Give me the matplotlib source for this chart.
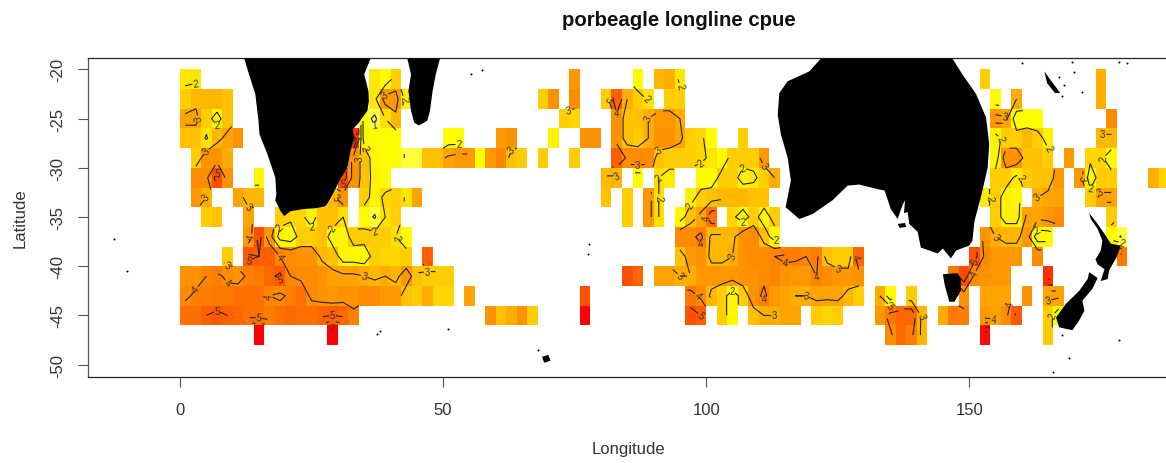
import numpy as np
import matplotlib
matplotlib.use("Agg")
import matplotlib.pyplot as plt
from matplotlib.colors import LinearSegmentedColormap

plt.rcParams['font.family'] = ['Liberation Sans', 'DejaVu Sans']
plt.rcParams['axes.unicode_minus'] = False

# cpue per 2 degree cell, row = northern edge of the cell
# {lon of first cell: [values of consecutive cells going east]}
lat_20 = {0: [1.8, 1.8], 36: [1.8, 1.4, 2.4], 74: [3.4], 86: [1.4], 90: [2.8, 3.0, 1.8], 152: [2.4], 174: [3.0]}
lat_22 = {0: [2.4, 2.8, 2.8, 2.8, 2.6], 36: [1.8, 3.4, 3.4, 1.6], 68: [2.4, 3.6], 74: [3.8],
          80: [2.4, 5.0, 3.0, 2.4, 1.9], 92: [2.4, 2.4], 154: [1.4], 158: [3.0], 174: [3.0]}
lat_24 = {0: [3.2, 3.2, 2.4, 1.6, 2.6], 34: [1.4, 0.8, 2.0, 2.8], 72: [2.4, 2.2],
          82: [3.6, 2.6, 2.6, 3.0, 3.4, 3.4, 3.0], 154: [3.4, 3.2, 1.4, 1.3, 1.3], 176: [3.8]}
lat_26 = {0: [2.6, 2.6, 1.9, 2.8, 3.2, 3.6], 32: [6.5, 1.5, 1.4, 1.4, 1.4], 50: [1.4, 1.4], 60: [3.4, 3.6],
          70: [1.6], 76: [3.6, 3.6], 82: [3.6, 2.6, 2.4, 3.0, 3.6, 3.6, 3.2, 2.4, 2.2, 1.4], 106: [2.4],
          154: [1.6, 2.4, 2.4, 2.8, 2.4, 1.6], 174: [2.8, 2.8]}
lat_28 = {2: [2.4, 3.6, 3.6, 3.0],
          32: [3.6, 2.6, 1.5, 1.4, 1.4, 0.9, 0.9, 2.6, 2.6, 3.2, 3.4, 3.4, 1.3, 3.4, 4.0, 2.6, 2.4],
          68: [2.4], 74: [2.4], 82: [5.0, 3.8, 3.8, 3.8, 2.6, 2.4, 2.4, 2.4, 2.2, 1.8, 1.4, 2.4, 2.4, 2.4, 3.4],
          154: [1.5, 3.6, 3.6, 2.6, 2.6, 2.4], 168: [3.4], 172: [2.2, 2.2, 1.4]}
lat_30 = {2: [3.8, 3.8, 5.4, 3.6], 14: [1.5], 30: [5.6, 3.6, 2.6, 1.6, 1.4], 80: [2.8, 2.8], 86: [1.4],
          90: [2.0, 1.7], 98: [1.4, 1.4, 2.4, 2.4, 1.6, 1.8, 2.4, 3.0],
          154: [2.4, 2.4, 1.8, 2.4, 2.6, 2.6, 3.4], 170: [3.4, 1.5, 2.4, 2.4], 184: [3.0, 2.2]}
lat_32 = {2: [3.4, 3.0], 10: [3.2, 2.8, 2.8], 28: [2.8, 3.6], 34: [2.4, 1.6, 2.2, 2.4, 1.9, 3.2], 80: [2.6],
          84: [2.4], 88: [3.4, 2.0], 96: [1.6, 2.4, 2.6, 2.8, 2.8, 2.8, 2.6, 2.6],
          152: [1.7, 2.4, 1.6, 1.5], 162: [3.0, 3.2, 3.2], 172: [2.4, 3.2, 3.2]}
lat_34 = {4: [2.4, 2.6], 12: [3.2], 18: [2.4, 2.2, 2.2, 1.6, 2.6, 2.6, 2.0], 34: [1.4, 0.9, 2.0, 2.4], 84: [2.4],
          88: [3.4, 2.0], 94: [1.5, 2.6, 3.2, 4.6], 104: [2.2, 1.5, 2.4, 1.5, 2.4],
          154: [2.4, 1.6, 1.6, 3.2, 3.2, 3.4, 3.8], 176: [2.4]}
lat_36 = {12: [3.4, 5.4, 3.4, 1.6, 1.4, 2.4, 2.4, 2.6, 1.5, 1.5, 2.4, 2.4, 2.4, 2.4, 2.0, 1.4],
          94: [3.8, 3.8, 4.2, 2.8, 2.8, 2.8, 3.6, 3.8, 2.6, 1.5],
          152: [3.6, 3.0, 2.8, 2.8, 3.4, 1.4, 1.4], 176: [1.4, 0.9]}
lat_38 = {8: [2.4], 12: [5.2, 5.0, 5.0, 4.0, 3.8, 3.6, 3.6, 2.8, 2.6, 1.5, 1.5, 1.4, 2.4, 2.2, 2.2, 2.4], 46: [5.0],
          94: [2.6, 3.4, 3.6, 2.8, 2.8, 3.0, 3.6, 3.8, 3.8, 4.0, 4.2, 4.2, 4.0, 4.2, 2.6, 2.4, 2.4], 128: [4.8],
          150: [5.4, 3.8, 3.4, 3.4, 3.4], 162: [3.8], 178: [4.4]}
lat_40 = {0: [3.6, 3.6, 4.0, 4.2, 3.8, 3.6, 4.2, 4.4, 4.8, 5.2, 4.0, 3.8, 3.8, 3.6, 3.2, 3.2, 3.2, 3.0, 2.8, 3.0,
              2.8, 3.4, 2.6, 2.4, 2.4, 2.4],
          84: [5.4, 4.8],
          90: [3.2, 3.2, 3.0, 3.0, 3.4, 3.4, 3.4, 3.4, 3.6, 3.6, 3.8, 4.0, 3.6, 3.4, 3.4, 4.0, 3.8, 3.4, 3.4],
          128: [3.6], 146: [4.4, 5.6, 3.8, 3.6, 3.4, 3.4], 164: [6.5]}
lat_42 = {0: [3.8, 4.2, 4.2, 4.4, 4.4, 4.6, 4.6, 4.6, 4.0, 3.8, 4.2, 4.6, 3.8, 3.6, 3.4, 3.6, 3.6, 3.8, 3.8, 3.4,
              3.4, 2.6, 2.4, 3.0, 2.2, 2.2],
          54: [3.2], 76: [5.4],
          96: [4.4, 3.8, 2.8, 2.4, 1.5, 2.4, 3.6, 4.2, 3.4, 3.2, 3.0, 3.0, 3.2, 3.2, 3.2, 2.8],
          128: [2.4], 132: [3.0, 1.4], 138: [2.4], 148: [3.6], 152: [3.2, 3.2, 3.2], 160: [3.6], 164: [3.2, 3.2]}
lat_44 = {0: [4.6, 4.6, 5.0, 5.2, 5.0, 4.8, 4.6, 4.6, 4.2, 4.6, 4.8, 4.6, 4.6, 4.8, 5.0, 4.8, 4.2],
          58: [3.6, 2.6, 3.0, 3.6, 2.4], 76: [8.2], 96: [5.4, 5.0], 102: [2.4, 1.5],
          108: [2.6, 3.0, 3.0, 3.2, 3.2], 120: [2.4, 2.2, 2.4], 132: [3.4, 4.4, 4.8, 4.8, 2.8],
          144: [3.0, 4.4, 4.2], 152: [3.4, 3.2, 3.8, 5.2], 164: [2.4, 1.4]}
lat_46 = {14: [8.2], 28: [8.2], 134: [3.8, 4.8, 4.2, 2.8], 152: [7.8], 164: [2.4]}

rows = [lat_20, lat_22, lat_24, lat_26, lat_28, lat_30, lat_32, lat_34, lat_36, lat_38, lat_40, lat_42, lat_44, lat_46]

# land outlines (lon, lat)
africa = [(12.2, -18.9), (13.1, -20.5), (14.3, -22.5), (14.9, -25.2), (15.1, -26.6), (16.6, -28.6), (18.1, -31.0),
          (18.3, -32.7), (18.1, -33.3), (19.1, -34.4), (19.8, -34.9), (21.0, -34.4), (23.3, -34.2), (25.8, -34.1),
          (27.7, -33.9), (29.0, -32.7), (30.5, -31.1), (31.8, -30.0), (32.4, -28.3), (33.1, -26.9), (32.8, -26.1),
          (34.0, -25.4), (35.6, -24.2), (35.9, -23.2), (35.8, -22.2), (35.0, -20.5), (36.2, -18.9)]
madagascar = [(43.2, -18.9), (43.9, -20.5), (43.4, -22.2), (43.9, -24.2), (44.5, -25.4), (45.4, -25.7), (47.0, -25.2),
              (47.5, -24.2), (48.0, -22.2), (48.6, -20.5), (49.4, -18.9)]
australia = [(121.8, -18.9), (119.6, -20.2), (115.5, -21.2), (113.9, -22.4), (113.6, -24.6), (114.2, -26.6),
             (115.5, -29.0), (116.1, -31.3), (115.1, -34.0), (117.7, -35.2), (120.2, -34.7), (124.0, -33.3),
             (126.9, -31.8), (129.1, -31.7), (132.9, -32.2), (133.9, -32.3), (135.1, -34.2), (136.4, -35.2),
             (137.3, -33.8), (137.8, -33.3), (137.6, -34.6), (138.3, -34.5), (138.6, -35.7), (140.2, -36.5),
             (140.8, -38.1), (144.0, -38.7), (145.0, -38.2), (146.5, -39.2), (147.5, -38.4), (150.0, -37.9),
             (150.6, -37.4), (151.0, -35.4), (152.2, -33.0), (153.5, -30.0), (153.8, -27.6),
             (153.2, -24.9), (151.3, -22.5), (148.7, -20.5), (146.8, -18.9)]
kangaroo = [(136.4, -35.7), (137.8, -35.6), (138.0, -36.0), (136.8, -36.1)]
tasmania = [(145.0, -40.8), (147.8, -40.7), (148.4, -41.3), (148.4, -42.5), (147.2, -43.6), (146.2, -43.6),
            (145.3, -41.8)]
nz_north = [(172.8, -34.6), (174.4, -35.7), (175.7, -36.7), (176.9, -37.7), (178.8, -37.9), (178.0, -39.1),
            (176.6, -40.4), (176.3, -41.3), (175.0, -41.5), (175.7, -40.3), (174.4, -39.8), (174.0, -39.3),
            (175.0, -38.4), (175.3, -37.4), (174.4, -36.2), (173.1, -35.2)]
nz_south = [(172.8, -40.6), (174.4, -41.2), (173.4, -42.3), (171.5, -43.5), (171.9, -44.5), (170.9, -45.5),
            (169.6, -46.5), (167.1, -46.2), (166.5, -45.2), (168.4, -43.8), (170.9, -42.5), (172.5, -41.3)]
new_caledonia = [(164.3, -20.2), (165.2, -20.9), (167.3, -22.4), (166.3, -22.4), (164.8, -21.4)]
kerguelen = [(68.8, -49.2), (70.0, -49.0), (70.4, -49.6), (69.2, -49.8)]
land = [africa, madagascar, australia, kangaroo, tasmania, nz_north, nz_south, new_caledonia, kerguelen]

island_lon = [57.4, 55.3, -12.5, -10.0, 51.0, 77.8, 77.6, 68.0, 37.5, 38.0, 166.0, 169.5, 170.0, 160.0, 167.1,
              168.0, 171.5, 167.7, 178.5, 180.0, 167.7, 178.5, 168.9]
island_lat = [-20.1, -20.5, -37.2, -40.5, -46.4, -37.7, -38.8, -48.5, -46.9, -46.6, -50.7, -19.2, -20.3, -19.3, -20.8,
              -21.6, -22.3, -22.7, -19.2, -19.3, -47.0, -47.5, -49.3]

lon_edges = np.arange(0, 190, 2)
lat_edges = -20 - 2 * np.arange(len(rows) + 1)

z = np.full((len(rows), len(lon_edges) - 1), np.nan)
for i, row in enumerate(rows):
    for start, vals in row.items():
        j = start // 2
        z[i, j:j + len(vals)] = vals

# heat.colors like ramp
vmax = 8.2
cm = LinearSegmentedColormap.from_list("heat_r", [(0, "#FFFFC0"), (1.3 / vmax, "#FFFF00"), (2.4 / vmax, "#FFCC00"),
                                                  (3.4 / vmax, "#FF9800"), (4.4 / vmax, "#FF7800"),
                                                  (5.4 / vmax, "#FF5000"), (1, "#FF0000")])

fig = plt.figure(figsize=(11.66, 4.64), dpi=100)
ax = fig.add_axes([88 / 1166, 1 - 378 / 464, (1166 - 88) / 1166, (378 - 59) / 464])

ax.pcolormesh(lon_edges, lat_edges, np.ma.masked_invalid(z), cmap=cm, vmin=0, vmax=vmax)

cs = ax.contour(lon_edges[:-1] + 1, lat_edges[:-1] - 1, np.ma.masked_invalid(z), levels=np.arange(1, 8),
                colors="#222222", linewidths=0.8)
labels = ax.clabel(cs, fmt="%d", fontsize=7, inline=True, inline_spacing=1, colors="#333333")

# drop contour labels that land on top of each other
fig.canvas.draw()
kept = []
for lab in labels:
    box = lab.get_window_extent().expanded(1.4, 1.4)
    if any(box.overlaps(b) for b in kept):
        lab.remove()
    else:
        kept.append(box)

for poly in land:
    ax.fill(*zip(*poly), color="black", lw=0, zorder=3)
ax.scatter(island_lon, island_lat, s=2, color="black", lw=0, zorder=3)

ax.set_xlim(-17.5, 187.4)
ax.set_ylim(-51.25, -18.84)
ax.spines['right'].set_visible(False)
ax.spines['left'].set_color("#555555")
ax.spines['top'].set_color("#222222")
ax.spines['bottom'].set_color("#222222")
for s in ax.spines.values():
    s.set_linewidth(0.9)

ax.set_xticks([0, 50, 100, 150])
ax.set_yticks([-20, -25, -30, -35, -40, -45, -50])
ax.tick_params(axis='x', length=7.2, width=0.8, color="#555555", labelsize=12, labelcolor="#333333", pad=10.5)
ax.tick_params(axis='y', length=7.2, width=0.8, color="#555555", labelsize=12, labelcolor="#333333",
               labelrotation=90, pad=9)
for lab in ax.get_yticklabels():
    lab.set_va("center")

fig.text(628 / 1166, 1 - 450 / 464, "Longitude", ha="center", va="center", fontsize=12, color="#333333")
fig.text(20 / 1166, 1 - 218 / 464, "Latitude", ha="center", va="center", rotation=90, fontsize=12, color="#333333")
fig.text(679 / 1166, 1 - 20 / 464, "porbeagle longline cpue", ha="center", va="center", fontsize=14.7,
         fontweight="bold", color="#111111")

fig.savefig("out.png", dpi=100)
